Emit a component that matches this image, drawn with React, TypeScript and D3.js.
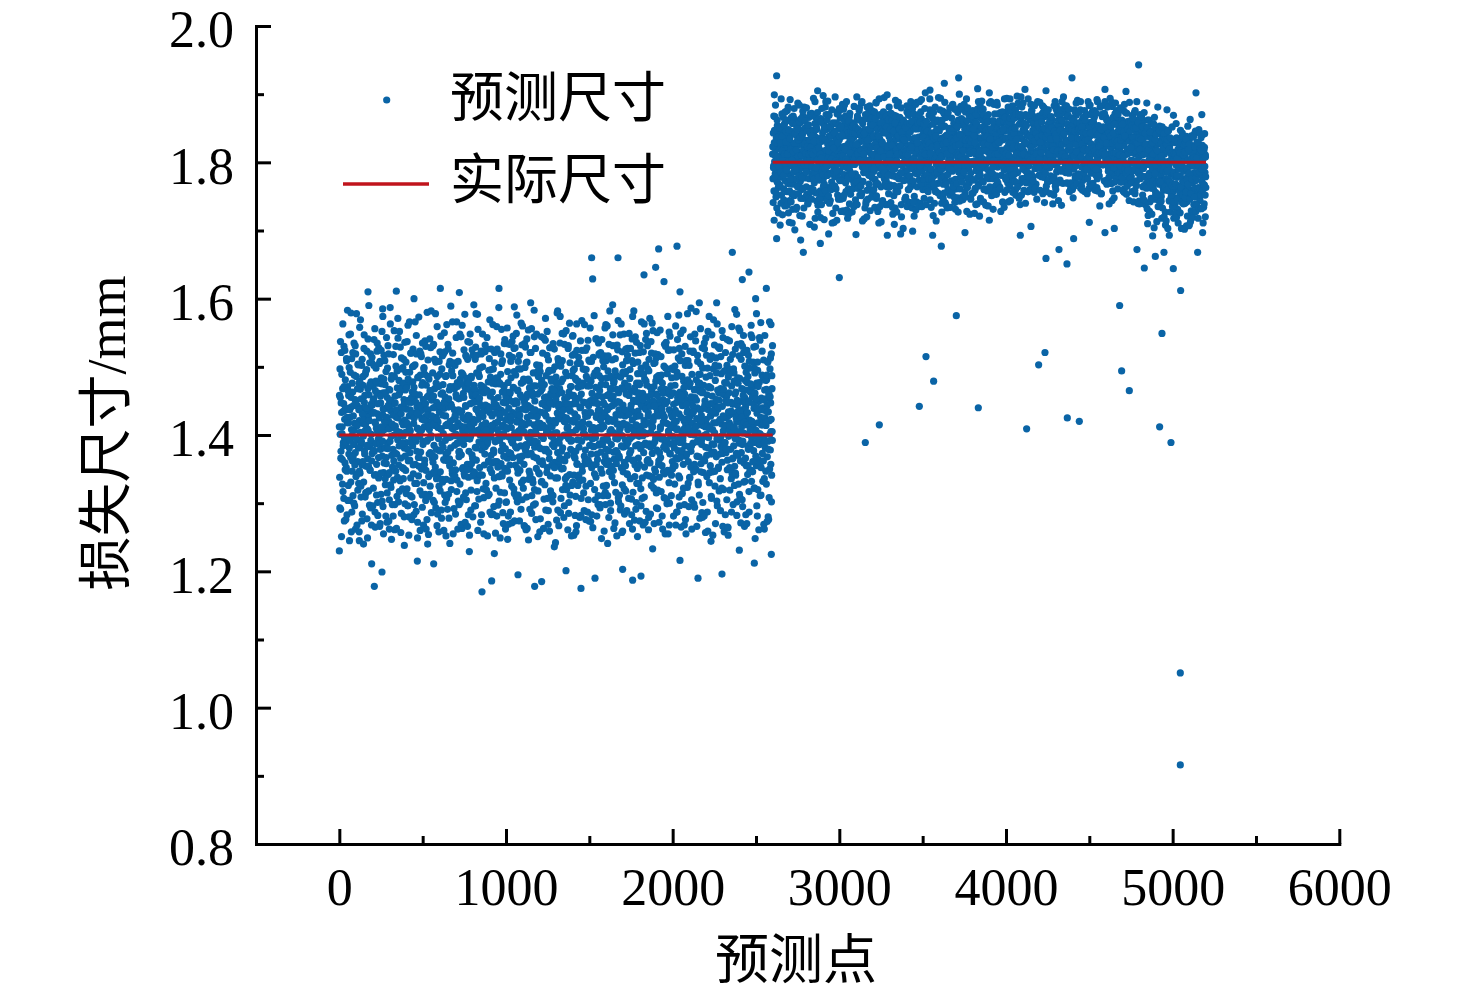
import { useEffect, useRef } from "react"
import * as d3 from "d3"

const width = 1476
const height = 999

const xTicks = [0, 1000, 2000, 3000, 4000, 5000, 6000]
const xMinorTicks = [500, 1500, 2500, 3500, 4500, 5500]
const yTicks = [0.8, 1.0, 1.2, 1.4, 1.6, 1.8, 2.0]
const yMinorTicks = [0.9, 1.1, 1.3, 1.5, 1.7, 1.9]

const seriesNames = ["预测尺寸", "实际尺寸"]
const xTitle = "预测点"
const yTitle = "损失尺寸/mm"

// 实际尺寸: [first point, last point, size in mm]
const actualSize: [number, number, number][] = [
  [0, 2600, 1.4],
  [2600, 5200, 1.8],
]

// 预测尺寸, bulk of each cloud (read by eye), thousandths of mm above 1 mm.
// Each string holds every 2nd point, starting at the given point number.
const sampleStep = 2
const groupAEvenStart = 0
const groupAOddStart = 1
const groupBEvenStart = 2600
const groupBOddStart = 2601

const groupAEven = `
412 338 497 455 291 376 521 433 402 364 468 317 389 446 530 274 423 359 481 396
437 352 509 283 418 471 395 326 458 547 381 304 426 492 367 441 258 512 399 347
463 311 428 386 535 407 296 452 374 519 339 486 415 268 443 361 504 392 329 476
421 558 344 467 385 309 439 502 356 284 417 473 398 331 527 448 372 406 489 315
354 432 496 277 409 365 541 427 318 459 383 506 349 436 293 478 401 362 514 444
388 471 322 453 540 376 419 287 465 342 498 410 357 523 431 301 476 394 337 461
425 266 508 379 447 313 484 403 552 369 430 295 462 345 517 408 381 474 327 439
493 358 414 272 455 388 531 342 420 467 305 449 391 563 436 323 482 370 411 298
445 379 518 334 400 486 261 457 413 347 501 426 372 310 469 393 542 433 356 480
317 462 404 529 366 441 285 497 419 352 475 398 336 511 452 381 422 299 466 348
507 389 438 321 474 415 561 362 451 280 428 492 374 406 337 520 448 395 309 463
384 526 343 417 470 298 432 503 357 458 391 546 329 441 410 272 485 367 429 354
459 401 318 488 375 436 515 350 423 294 477 386 444 330 499 412 363 538 427 304
348 473 421 276 456 393 510 437 339 482 408 313 465 374 528 399 286 451 419 366
491 360 440 533 385 301 468 414 353 507 426 379 448 267 486 340 419 397 471 325
434 377 522 346 409 460 290 443 387 516 331 474 402 364 439 550 312 456 392 428
372 487 307 450 416 362 533 396 441 278 466 355 508 420 381 445 320 494 411 343
520 409 359 471 292 437 385 502 426 349 459 401 566 334 477 388 418 303 453 368
397 454 328 482 413 544 371 435 263 490 406 352 461 386 525 424 340 470 399 315
442 305 478 395 357 511 429 283 467 376 420 536 350 446 398 319 484 411 371 457
366 517 423 346 473 404 296 455 382 529 438 363 491 317 449 407 555 339 432 390
486 352 400 464 272 443 519 378 414 341 500 427 394 308 469 356 436 522 383 418
329 466 411 543 387 442 311 478 399 360 512 433 287 457 405 370 496 345 428 463
410 284 497 374 452 337 521 417 390 475 322 444 559 361 408 481 297 439 402 354
475 392 425 316 489 358 436 505 343 463 385 414 270 472 398 534 351 447 380 422
301 448 534 409 366 493 428 281 454 397 517 334 461 420 373 484 411 325 537 389
433 367 470 395 527 314 446 402 356 488 430 549 381 419 302 465 344 508 437 396
517 421 348 459 384 291 476 413 532 369 438 405 322 482 357 450 266 499 415 377
386 455 309 507 426 371 443 554 335 418 479 393 342 468 404 521 430 285 462 401
458 330 491 368 415 544 382 437 299 472 409 351 503 427 389 460 318 486 345 434
343 502 417 277 464 398 331 480 446 362 520 413 395 447 306 474 431 377 539 410
428 379 456 517 352 439 405 289 493 422 365 451 528 340 416 482 399 313 468 386
495 311 402 445 383 526 360 467 418 337 485 403 275 459 432 374 512 390 441 354
362 468 535 396 424 307 478 350 441 509 381 427 364 548 400 296 453 419 336 492
441 399 320 487 370 456 412 531 285 463 394 342 506 435 379 421 471 326 445 517
404 546 376 419 341 497 431 366 452 310 481 408 563 357 426 393 470 338 514 382
471 333 440 505 412 282 460 391 524 347 419 476 402 315 448 369 496 433 378 427
325 486 397 364 472 428 539 305 443 416 359 508 385 450 273 479 407 352 461 394
452 410 514 356 383 447 320 491 401 470 338 426 541 372 409 457 298 436 385 519
387 465 293 432 521 375 409 483 344 415 456 393 325 500 428 361 444 557 316 474
509 357 426 398 458 311 494 420 377 533 346 441 405 468 289 453 386 422 339 483
420 531 348 476 403 365 446 271 512 395 430 358 487 416 374 525 401 308 462 437
366 448 410 290 485 437 352 469 399 327 503 444 382 415 548 360 476 428 393 318
493 384 470 415 342 527 389 431 307 458 412 373 496 336 439 464 397 283 509 422
434 316 505 363 449 401 469 356 544 384 427 301 476 410 351 490 435 366 455 398
357 474 428 531 380 296 445 413 490 337 461 399 522 374 421 309 482 446 388 540
479 402 341 456 418 497 364 433 279 511 387 448 359 470 404 537 326 464 411 373
412 553 386 322 471 427 350 506 441 396 460 315 485 378 434 292 518 400 357 449
338 443 480 409 367 515 394 438 355 476 262 452 419 382 501 426 343 467 389 530
466 379 417 299 490 348 461 524 403 330 437 415 545 372 458 398 311 484 427 361
398 496 354 445 412 381 328 473 436 560 367 420 287 492 409 455 377 513 340 431
527 337 463 390 549 426 372 405 486 314 444 397 357 479 421 268 460 384 502 416
369 452 406 477 323 436 509 361 418 383 471 338 523 401 447 376 431 305 489 355
443 388 521 346 400 466 294 455 412 538 350 481 424 369 440 508 393 327 468 415
312 476 437 393 504 358 429 386 462 279 498 414 345 473 399 535 362 450 421 382
485 423 370 459 287 414 552 437 396 471 330 409 487 355 428 446 310 516 375 457
408 346 497 418 375 444 403 325 480 432 513 368 452 394 296 466 438 351 501 420
451 529 392 336 468 383 490 416 360 442 373 543 406 320 459 389 477 425 283 494
374 414 456 502 349 427 264 485 398 462 418 352 430 511 379 448 336 472 405 365
518 366 432 384 491 411 354 460 526 341 478 395 419 302 444 484 370 435 557 388
392 483 308 449 420 534 374 412 437 386 295 467 403 521 359 426 455 332 480 441
430 355 466 524 401 342 486 379 450 317 508 422 383 463 410 547 348 396 472 419
346 471 415 377 439 498 322 461 389 530 407 355 476 432 281 495 418 364 449 386
477 402 539 359 426 312 454 395 488 373 440 417 362 510 398 336 466 425 381 453
414 328 481 443 368 507 391 434 276 459 421 350 497 378 447 405 519 341 468 392
`

const groupAOdd = `
458 293 401 537 366 447 251 489 412 328 563 384 435 307 471 396 524 349 440 276
389 512 347 426 583 304 465 418 372 499 245 437 392 548 331 455 408 287 476 362
521 368 443 300 488 417 356 531 262 449 395 578 342 414 468 319 503 381 437 258
347 479 404 569 325 453 390 274 511 430 361 486 240 422 547 377 458 309 415 493
440 316 523 385 249 468 407 354 590 421 297 474 348 519 392 445 268 506 373 432
296 451 378 502 433 341 556 265 417 479 387 312 461 535 405 282 446 367 528 399
505 388 270 457 344 524 412 475 303 391 574 438 255 482 359 420 509 336 462 281
367 543 426 315 498 380 443 519 274 409 345 466 587 327 451 398 247 487 416 353
429 281 486 362 553 412 298 447 373 530 437 263 406 494 338 571 425 302 459 384
552 402 333 468 257 431 513 388 440 321 499 415 351 476 280 447 536 369 404 492
314 469 418 537 379 296 482 448 253 410 566 363 437 311 520 389 455 276 431 500
478 356 501 283 425 461 329 566 394 448 288 519 376 432 249 484 409 340 573 367
398 523 260 444 519 352 407 473 312 535 391 452 268 497 422 357 489 313 446 530
262 437 391 580 309 486 430 254 458 372 413 541 325 465 396 582 343 428 371 455
531 304 457 416 346 511 368 441 578 293 476 336 423 559 284 411 472 395 258 508
443 489 318 377 545 409 278 497 335 462 429 382 519 260 448 363 522 301 486 414
335 414 562 448 291 375 526 313 453 503 365 241 471 397 589 333 442 411 348 566
487 255 423 506 399 468 340 429 284 412 543 455 317 388 471 262 508 437 375 298
376 548 301 433 475 269 491 392 561 350 426 488 309 455 343 412 577 272 443 517
515 422 483 349 266 537 407 338 476 428 253 394 548 414 290 486 358 461 525 340
280 365 448 591 418 345 467 511 296 459 381 517 437 333 577 260 423 490 306 448
454 498 342 409 473 523 283 433 386 548 471 321 406 255 462 408 372 532 444 395
407 319 526 465 252 390 438 362 495 313 440 569 350 485 397 526 283 414 359 476
562 441 378 295 447 506 361 479 256 432 392 484 281 526 419 353 455 339 587 303
339 476 249 431 519 377 555 412 340 509 286 448 402 369 472 315 540 433 262 456
463 302 411 557 347 425 477 269 439 374 533 356 463 287 508 426 391 271 449 514
388 545 469 321 493 274 403 528 383 450 309 420 576 447 351 466 312 497 406 368
274 429 362 497 408 564 330 455 305 560 417 478 334 405 267 534 446 380 529 437
506 383 541 263 460 397 482 246 418 347 469 291 521 389 440 373 556 311 462 335
428 472 297 436 583 320 450 391 527 276 402 548 366 427 493 251 418 488 382 498
361 258 493 380 411 474 544 332 468 433 357 414 263 542 379 455 327 443 571 290
487 403 345 552 307 441 269 510 374 495 259 528 446 318 461 398 479 356 412 459
302 534 421 466 392 352 500 418 242 452 389 476 403 579 337 290 424 507 267 388
445 366 574 286 501 431 376 462 549 320 482 351 437 279 420 533 362 447 400 326
553 425 339 410 446 261 527 395 301 437 564 404 312 471 391 458 252 392 487 545
331 495 458 253 369 519 423 282 483 376 446 267 524 358 505 326 479 415 341 454
416 279 392 538 441 307 472 568 354 416 334 497 409 448 289 562 401 362 524 276
496 447 528 358 287 482 363 433 510 274 472 385 557 329 433 372 508 283 451 408
264 383 411 487 575 343 451 305 396 541 357 429 281 495 364 446 311 535 411 487
437 517 298 422 350 474 248 540 428 386 509 311 447 412 259 516 433 369 298 562
379 326 484 560 437 392 516 362 279 460 423 582 355 300 486 408 352 467 510 443
547 457 375 263 479 330 423 494 448 316 377 467 252 532 394 449 568 302 416 369
312 408 547 429 296 563 384 257 522 436 492 346 417 467 321 284 437 490 355 526
460 509 289 343 517 408 472 365 430 549 270 483 395 527 377 444 306 411 541 262
398 362 451 582 406 275 339 520 463 291 415 536 329 449 251 507 386 462 329 476
521 274 406 447 321 498 566 442 307 385 452 268 489 404 563 353 415 272 438 503
288 549 473 362 531 385 428 261 494 418 340 571 442 284 382 459 520 413 564 338
450 421 335 505 270 443 390 519 346 479 513 293 401 550 458 319 428 487 362 272
374 487 554 412 467 317 488 438 281 397 431 462 346 427 308 533 385 255 446 498
536 306 392 449 347 574 255 406 464 551 300 373 525 387 472 431 341 498 411 350
426 462 281 525 389 419 501 355 432 268 485 408 448 287 540 365 460 394 576 309
296 389 509 367 452 265 458 519 377 443 392 554 322 469 409 298 423 530 276 472
509 445 372 433 578 481 329 410 295 502 426 337 476 544 353 456 384 262 431 417
352 523 434 299 406 357 548 467 412 349 581 451 266 390 517 403 331 475 489 368
464 278 489 556 346 421 392 286 528 464 301 397 439 364 281 526 444 412 257 542
401 517 339 412 498 259 470 381 445 574 410 345 511 428 469 372 307 547 387 433
253 435 569 386 446 532 347 502 270 418 451 491 303 563 396 441 529 353 462 318
527 372 423 289 515 398 461 322 553 379 266 428 467 386 258 494 412 389 521 450
380 476 305 540 363 447 253 434 490 407 538 319 414 496 350 435 287 559 343 404
445 298 497 412 479 326 584 395 344 463 425 373 282 451 533 405 476 328 429 516
313 553 434 362 271 511 426 468 305 530 391 458 546 331 419 266 501 447 366 283
492 415 270 477 433 384 355 517 448 287 498 347 407 475 388 561 332 420 543 456
361 507 446 529 322 462 491 248 401 369 453 578 296 440 507 320 471 394 261 398
543 386 311 401 565 352 415 437 523 415 332 484 417 269 451 389 546 436 480 347
419 467 488 273 434 507 280 379 462 308 566 401 456 513 357 423 302 487 405 531
`

const groupBEven = `
812 776 843 795 758 829 801 867 784 818 749 836 807 772 854 790 823 763 845 799
781 827 766 852 809 740 835 793 871 816 778 804 846 761 825 789 857 814 773 838
839 798 820 757 876 806 783 848 769 831 812 744 861 795 824 779 842 808 753 817
768 845 811 786 828 751 863 797 819 775 840 802 734 856 787 833 815 766 849 804
826 790 858 772 815 837 796 760 844 810 781 868 825 747 833 799 818 777 851 792
803 764 832 819 788 853 740 812 797 866 776 829 806 842 762 817 794 872 783 835
847 816 779 841 804 770 823 889 791 837 755 812 848 783 820 805 737 859 796 828
774 835 802 758 864 817 789 831 748 810 843 799 776 856 814 768 834 802 881 787
818 752 848 806 781 827 795 870 763 838 809 784 823 744 852 800 829 771 815 843
796 839 766 822 805 857 779 811 846 788 761 833 818 797 874 752 826 808 785 849
833 808 787 865 746 819 802 838 775 851 813 794 729 842 822 782 860 806 839 770
757 824 850 792 816 780 843 761 828 801 867 788 835 810 753 846 819 775 804 858
844 781 812 836 769 855 797 821 783 809 739 849 826 800 864 778 815 841 762 829
807 862 773 800 845 819 751 837 810 793 857 772 818 785 831 805 848 733 822 796
785 817 836 759 828 803 880 790 842 768 815 834 797 759 823 847 782 810 869 777
824 798 753 850 787 836 812 775 859 804 829 747 840 813 792 854 768 837 801 826
869 835 807 782 819 764 848 796 830 811 744 862 788 821 843 776 814 851 799 738
790 772 843 816 800 857 783 825 754 838 804 871 767 832 810 793 846 820 781 813
813 854 780 828 766 841 806 791 867 818 779 835 802 757 850 824 797 840 776 858
835 765 821 797 853 810 738 845 814 784 828 799 862 773 837 808 786 830 815 749
801 842 788 874 779 823 809 760 836 797 852 777 818 845 764 826 803 880 791 817
769 819 855 806 834 750 831 815 784 866 800 828 742 813 849 783 821 798 837 774
851 794 812 740 827 803 864 787 822 773 840 811 795 857 807 779 833 852 762 804
818 827 770 848 791 837 815 853 798 830 763 819 877 785 806 843 790 812 827 771
779 838 806 823 763 859 781 805 841 757 825 797 834 816 788 862 769 847 803 829
846 801 784 835 810 777 826 740 852 808 791 836 768 823 814 780 853 796 838 866
825 772 840 797 868 816 760 831 804 789 847 819 752 838 806 824 773 865 811 787
796 849 818 768 822 843 799 878 775 815 834 761 850 792 827 748 839 815 786 832
838 805 761 855 787 810 833 796 820 749 862 808 780 841 819 795 828 757 854 806
766 830 824 803 845 776 817 849 790 836 770 826 813 863 784 837 801 823 775 842
823 854 797 820 774 867 802 759 839 812 788 856 825 799 835 778 847 810 768 818
809 787 866 781 836 815 743 828 806 851 794 819 771 833 760 845 792 831 858 797
847 818 803 844 758 826 789 870 814 776 840 803 848 785 822 809 833 751 816 861
783 839 776 812 853 797 828 805 765 846 821 780 837 811 884 793 769 843 806 829
829 764 837 799 817 841 781 814 858 796 742 833 808 873 789 817 846 799 778 836
811 850 821 874 791 770 847 802 827 818 855 786 765 829 804 841 775 824 861 793
774 826 795 838 807 852 819 789 843 760 831 811 867 798 842 785 818 836 750 815
856 801 841 770 864 816 798 835 776 823 809 847 794 817 759 830 853 805 788 870
795 843 810 827 783 839 757 868 812 795 839 775 825 862 802 818 783 876 834 807
837 779 856 815 800 858 826 791 850 807 768 843 816 800 831 889 797 852 809 781
818 834 782 861 826 795 845 808 822 871 790 833 757 849 819 806 867 788 826 844
805 765 848 794 839 772 813 877 801 835 816 792 853 824 780 838 804 859 775 818
862 827 809 836 778 851 797 830 765 847 812 883 786 817 843 799 825 771 855 832
789 848 774 819 853 806 840 787 826 809 857 769 838 801 873 814 792 846 810 785
831 797 866 803 787 832 769 819 849 784 826 806 844 818 762 851 828 797 837 864
814 853 828 790 845 817 810 856 776 838 795 869 812 780 835 803 848 783 822 845
848 782 809 877 762 827 846 793 815 862 773 821 847 801 824 866 779 818 854 796
796 830 841 806 839 776 858 814 835 790 852 808 768 839 815 784 859 825 800 874
823 769 816 848 795 866 788 840 801 823 781 845 810 892 776 830 806 851 787 836
780 847 797 829 810 842 754 832 811 867 817 796 842 820 851 773 838 889 813 805
839 808 862 774 824 800 847 787 855 778 835 812 770 856 800 821 845 769 829 882
806 828 785 841 858 813 780 871 824 797 861 776 828 804 839 788 817 846 798 851
857 784 820 798 835 771 850 806 839 813 788 845 802 876 825 761 833 811 859 774
772 836 853 812 767 843 818 795 860 779 831 857 814 789 848 803 779 837 757 823
827 801 788 855 825 798 837 754 812 846 799 816 773 828 862 797 840 784 821 808
789 844 829 776 849 781 814 839 792 827 752 835 861 800 814 766 852 824 738 845
840 769 813 838 797 862 774 822 848 803 784 827 742 815 837 779 806 762 835 798
803 821 762 847 810 779 843 787 828 756 818 793 850 771 826 745 829 788 811 752
768 853 794 815 781 832 750 807 773 839 765 802 786 836 760 812 773 848 727 817
819 776 838 760 824 801 788 766 847 791 744 823 800 757 830 783 756 806 769 833
786 815 757 833 748 808 779 829 740 812 796 762 836 778 803 731 819 791 748 826
831 750 805 780 817 765 834 796 758 843 772 811 748 787 823 765 809 740 802 776
754 838 790 742 826 803 769 815 781 747 833 794 760 820 776 805 729 838 770 797
812 771 824 799 758 785 842 751 806 773 817 739 795 829 756 809 782 763 827 749
797 826 744 813 781 836 763 801 772 825 753 790 808 734 818 767 842 785 811 779
`

const groupBOdd = `
823 741 792 868 715 847 779 810 884 756 829 798 733 862 809 770 851 726 837 794
767 851 708 829 786 893 752 817 838 723 804 866 781 745 855 812 736 874 798 830
845 789 862 737 812 769 881 726 847 801 758 835 892 775 819 742 866 803 711 857
731 868 815 754 879 828 701 842 789 855 731 818 776 849 764 887 809 754 833 780
859 722 837 800 747 864 810 778 721 841 875 762 818 733 881 796 827 861 749 813
786 880 753 846 823 739 796 855 812 748 833 709 871 822 757 815 746 838 794 869
812 760 894 775 831 787 857 718 866 792 817 851 743 803 873 727 863 778 821 744
747 831 812 719 859 806 738 879 755 834 782 898 765 847 716 852 791 833 758 889
870 795 744 862 781 890 829 751 817 869 740 824 853 784 839 760 805 877 711 826
725 858 821 788 712 843 765 896 802 733 858 788 715 871 799 829 871 746 855 776
838 773 877 749 852 728 812 840 773 885 809 747 878 823 752 884 727 819 868 801
804 889 730 866 801 858 778 724 861 799 739 872 814 760 833 796 853 783 727 852
761 826 855 735 882 770 843 808 745 851 826 771 896 738 868 812 762 848 804 876
880 752 803 843 765 817 887 755 833 714 862 798 840 812 717 843 831 792 870 739
743 864 720 881 832 746 799 872 781 849 802 883 729 856 780 865 749 876 758 823
855 811 839 760 791 874 734 826 864 768 887 751 821 769 849 728 808 839 711 893
796 735 870 817 858 713 849 791 742 828 739 845 874 808 895 785 854 769 845 767
868 852 764 899 738 823 781 863 804 881 812 764 793 848 741 872 797 825 862 734
724 789 846 751 869 796 858 733 891 757 868 819 727 883 812 757 839 888 781 848
849 866 797 824 785 880 720 844 815 795 836 703 860 774 833 818 746 803 851 815
812 744 883 735 857 811 774 869 760 872 780 857 819 741 889 769 822 861 733 879
773 833 741 871 721 849 836 797 885 730 851 801 888 764 829 858 792 735 870 787
889 795 859 809 874 767 892 735 848 813 760 837 775 856 747 800 879 812 848 760
738 860 781 846 799 831 757 823 776 869 828 893 745 813 871 734 843 776 822 865
856 722 873 768 835 740 844 881 758 839 714 809 849 786 823 860 755 895 799 815
803 877 751 894 790 856 809 727 862 796 875 747 826 872 755 818 888 741 866 738
768 829 812 733 867 782 873 840 791 850 759 880 802 734 846 789 834 819 757 884
885 764 850 857 749 832 741 856 731 824 878 836 769 853 808 873 727 862 811 826
743 841 797 778 882 809 864 771 878 803 745 817 861 786 885 751 848 796 874 749
832 893 728 861 763 880 797 844 815 869 832 724 851 817 746 830 873 754 835 868
876 755 849 815 839 725 829 762 859 738 870 857 796 739 878 801 765 889 812 793
721 816 883 747 876 798 851 890 773 862 797 878 742 869 827 761 839 817 851 737
847 864 779 838 804 859 736 827 847 801 887 764 834 813 889 849 785 758 887 822
793 731 861 802 885 753 871 812 758 843 826 753 888 772 850 812 871 830 760 858
861 847 762 873 728 846 818 869 797 874 741 849 817 861 734 893 756 866 801 775
813 779 894 760 857 799 881 742 836 810 859 789 865 744 829 876 837 781 848 883
756 868 823 843 782 865 772 850 877 752 871 834 770 897 812 764 887 823 870 747
884 805 738 811 870 823 752 881 811 858 790 887 857 812 776 848 801 857 740 829
770 854 867 786 840 757 893 807 779 838 869 760 803 840 885 822 768 876 836 869
847 773 806 884 756 883 831 762 865 791 842 812 746 864 798 857 837 792 868 801
806 888 759 830 868 814 779 859 839 883 754 873 881 778 850 741 879 849 784 837
871 757 873 796 842 771 856 826 774 847 812 861 830 754 834 867 796 824 851 773
739 823 818 752 883 846 801 889 841 760 878 835 769 871 817 790 856 744 877 862
868 811 847 877 789 862 737 817 861 812 839 788 896 827 842 879 808 883 800 830
792 883 770 831 856 787 869 850 794 878 757 851 823 802 770 836 865 814 848 760
857 748 862 809 765 877 846 780 873 826 887 815 769 858 891 803 847 779 874 849
781 858 833 889 847 809 765 852 827 759 843 866 838 785 819 876 757 862 833 790
842 802 790 754 870 833 889 819 761 883 808 850 884 843 797 827 870 813 766 857
765 873 859 821 792 876 817 759 852 846 790 872 763 812 889 758 841 854 822 814
824 736 881 848 826 754 848 883 815 797 871 830 852 797 836 872 812 772 867 851
884 828 768 863 881 803 860 792 843 739 856 787 894 839 769 853 798 888 744 828
758 866 843 792 748 856 771 832 887 814 799 876 826 867 831 761 871 825 846 810
847 811 795 880 833 771 846 862 778 856 837 758 809 845 756 885 839 790 873 784
798 753 872 765 818 849 788 814 860 744 888 820 846 777 860 822 770 854 803 869
865 836 742 851 801 873 759 876 797 830 851 766 889 802 829 740 858 796 836 743
739 870 819 796 778 834 867 740 853 811 764 852 791 745 873 812 779 843 764 820
827 762 887 732 851 799 722 819 781 862 728 806 844 768 826 747 857 724 829 791
772 812 746 856 704 866 784 833 751 796 841 770 713 817 753 881 735 806 773 848
846 737 800 771 828 743 809 718 852 733 788 822 759 842 720 797 764 833 708 786
714 826 759 833 788 703 846 775 797 819 743 771 836 727 813 749 801 766 852 735
801 742 869 718 812 765 834 725 810 768 857 719 781 806 746 831 711 790 763 817
758 814 726 847 764 829 703 796 741 838 752 811 739 826 771 702 815 748 829 756
834 707 791 775 721 853 768 819 707 784 827 746 863 713 798 754 839 776 721 805
719 795 837 738 807 749 823 762 846 728 778 806 737 785 829 761 718 795 848 732
786 843 761 820 752 817 732 870 790 759 841 711 806 767 739 822 794 752 808 763
`

// 预测尺寸, sparse points at the edges of each cloud: [point, size in mm]
const tailsA: [number, number][] = [
  [172, 1.61], [342, 1.611], [606, 1.615], [720, 1.609], [958, 1.615], [448, 1.6],
  [1148, 1.594], [70, 1.579], [1514, 1.66], [1672, 1.66], [1520, 1.629], [1916, 1.673],
  [2026, 1.677], [1898, 1.646], [1828, 1.635], [1948, 1.625], [2044, 1.61], [2358, 1.668],
  [2458, 1.639], [2418, 1.628], [2562, 1.615], [2498, 1.6], [2160, 1.594], [2264, 1.594],
  [2384, 1.577], [260, 1.585], [820, 1.578], [1050, 1.588], [1310, 1.582], [1640, 1.591],
  [1760, 1.574], [2110, 1.586], [2590, 1.562],
  [210, 1.178], [856, 1.17], [914, 1.186], [1172, 1.178], [1214, 1.185], [1450, 1.175],
  [2152, 1.19], [1760, 1.187], [1810, 1.193], [1534, 1.19], [2296, 1.196], [1072, 1.195],
  [256, 1.199], [2592, 1.225], [0, 1.23], [566, 1.211], [468, 1.215], [194, 1.211],
  [2490, 1.212], [1700, 1.203], [2044, 1.216], [1360, 1.201],
  [120, 1.245], [390, 1.238], [640, 1.252], [780, 1.229], [1010, 1.247], [1290, 1.236],
  [1420, 1.258], [1610, 1.241], [1880, 1.233], [2080, 1.255], [2230, 1.244], [2400, 1.231],
  [2550, 1.262], [300, 1.262], [930, 1.226], [1120, 1.261], [1980, 1.268], [2330, 1.265],
  [530, 1.24], [1700, 1.259],
]

const tailsB: [number, number][] = [
  [2624, 1.927], [3716, 1.924], [4396, 1.924], [3630, 1.916], [2610, 1.899], [2870, 1.905],
  [5140, 1.902], [4594, 1.907], [4720, 1.904], [3830, 1.908], [4114, 1.907], [3516, 1.902],
  [3544, 1.906], [3900, 1.902], [4240, 1.905], [3720, 1.9], [4796, 1.943], [4336, 1.889],
  [4024, 1.893], [4090, 1.896], [4966, 1.877], [2760, 1.884], [3000, 1.879], [3136, 1.889],
  [3220, 1.888],
  [3000, 1.631], [3702, 1.575], [3520, 1.515], [3566, 1.479], [3480, 1.442], [3240, 1.415],
  [3156, 1.389], [3834, 1.44], [4234, 1.521], [4196, 1.503], [4124, 1.409], [4368, 1.425],
  [4440, 1.42], [4682, 1.59], [4694, 1.494], [4740, 1.465], [4936, 1.549], [4922, 1.412],
  [4990, 1.389], [5048, 1.612], [5046, 1.051], [5046, 0.916],
  [4240, 1.659], [4366, 1.651], [4830, 1.645], [5004, 1.644], [4896, 1.662], [4948, 1.668],
  [5150, 1.668], [4318, 1.672], [4786, 1.672], [2624, 1.688], [2784, 1.668], [2768, 1.686],
  [2886, 1.681], [3612, 1.677], [4406, 1.688], [3560, 1.693], [4086, 1.693], [4594, 1.697],
  [5180, 1.697], [4880, 1.692], [4980, 1.693], [3754, 1.697], [3288, 1.693], [3368, 1.695],
  [3440, 1.699], [3100, 1.694], [2936, 1.695],
  [2700, 1.712], [2850, 1.705], [3050, 1.718], [3330, 1.709], [3900, 1.715], [4150, 1.706],
  [4500, 1.712], [4650, 1.703], [4850, 1.71], [5100, 1.708], [5196, 1.72],
]

const blue = "#0a64a6"
const red = "#c0141c"
const latinFont = "'Liberation Serif', 'Times New Roman', serif"
const mixedFont = "'Liberation Serif', 'Noto Sans CJK SC', serif"
const dotRadius = 3.6

function parseGroup(text: string, start: number): [number, number][] {
  return text
    .trim()
    .split(/\s+/)
    .map((v, i) => [start + i * sampleStep, 1 + Number(v) / 1000])
}

export default function App() {
  const svgRef = useRef<SVGSVGElement>(null)

  useEffect(() => {
    if (!svgRef.current) return
    const svg = d3.select(svgRef.current)
    svg.selectAll("*").remove()

    const x = d3.scaleLinear().domain([-500, 6000]).range([256, 1339.3])
    const y = d3.scaleLinear().domain([0.8, 2.0]).range([844, 26])

    const points = [
      ...parseGroup(groupAEven, groupAEvenStart),
      ...parseGroup(groupAOdd, groupAOddStart),
      ...tailsA,
      ...parseGroup(groupBEven, groupBEvenStart),
      ...parseGroup(groupBOdd, groupBOddStart),
      ...tailsB,
    ]

    // predicted points
    svg
      .append("g")
      .selectAll("circle")
      .data(points)
      .join("circle")
      .attr("cx", (d) => x(d[0]))
      .attr("cy", (d) => y(d[1]))
      .attr("r", dotRadius)
      .attr("fill", blue)

    // actual size
    svg
      .append("g")
      .selectAll("line")
      .data(actualSize)
      .join("line")
      .attr("x1", (d) => x(d[0]))
      .attr("x2", (d) => x(d[1]))
      .attr("y1", (d) => y(d[2]))
      .attr("y2", (d) => y(d[2]))
      .attr("stroke", red)
      .attr("stroke-width", 3)

    // y axis, ticks inside
    const yAxis = svg
      .append("g")
      .attr("transform", `translate(${x(-500)},0)`)
      .call(
        d3
          .axisLeft(y)
          .tickValues(yTicks)
          .tickFormat(d3.format(".1f"))
          .tickSize(-15)
          .tickSizeOuter(0)
          .tickPadding(22),
      )
    svg
      .append("g")
      .attr("transform", `translate(${x(-500)},0)`)
      .call(d3.axisLeft(y).tickValues(yMinorTicks).tickFormat(() => "").tickSize(-8))
      .call((g) => g.select(".domain").remove())
      .selectAll("line")
      .attr("stroke-width", 3)

    // x axis, ticks inside
    const xAxis = svg
      .append("g")
      .attr("transform", `translate(0,${y(0.8)})`)
      .call(
        d3
          .axisBottom(x)
          .tickValues(xTicks)
          .tickFormat(d3.format("d"))
          .tickSize(-15)
          .tickSizeOuter(0)
          .tickPadding(24),
      )
    svg
      .append("g")
      .attr("transform", `translate(0,${y(0.8)})`)
      .call(d3.axisBottom(x).tickValues(xMinorTicks).tickFormat(() => "").tickSize(-8))
      .call((g) => g.select(".domain").remove())
      .selectAll("line")
      .attr("stroke-width", 3)

    for (const ax of [yAxis, xAxis]) {
      ax.attr("font-family", latinFont).attr("font-size", 52)
      ax.select(".domain").attr("stroke-width", 3).attr("stroke-linecap", "square")
      ax.selectAll(".tick line").attr("stroke-width", 3)
      ax.selectAll("text").attr("fill", "#000")
    }
    yAxis.selectAll("text").attr("dy", "0.4em")

    // axis titles
    svg
      .append("text")
      .attr("transform", "translate(107,433) rotate(-90)")
      .attr("text-anchor", "middle")
      .attr("dominant-baseline", "central")
      .attr("font-family", mixedFont)
      .attr("font-size", 54)
      .text(yTitle)

    svg
      .append("text")
      .attr("x", 796)
      .attr("y", 961)
      .attr("text-anchor", "middle")
      .attr("dominant-baseline", "central")
      .attr("font-family", mixedFont)
      .attr("font-size", 54)
      .text(xTitle)

    // legend
    const legend = svg.append("g").attr("font-family", mixedFont).attr("font-size", 54)
    legend.append("circle").attr("cx", 386.7).attr("cy", 100).attr("r", dotRadius).attr("fill", blue)
    legend.append("text").attr("x", 450).attr("y", 99).attr("dominant-baseline", "central").text(seriesNames[0])
    legend
      .append("line")
      .attr("x1", 343)
      .attr("x2", 429)
      .attr("y1", 184)
      .attr("y2", 184)
      .attr("stroke", red)
      .attr("stroke-width", 3.5)
    legend.append("text").attr("x", 450).attr("y", 181).attr("dominant-baseline", "central").text(seriesNames[1])
  }, [])

  return (
    <div style={{ position: "absolute", left: 0, top: 0 }}>
      <svg ref={svgRef} width={width} height={height} style={{ display: "block", background: "#fff" }} />
    </div>
  )
}
